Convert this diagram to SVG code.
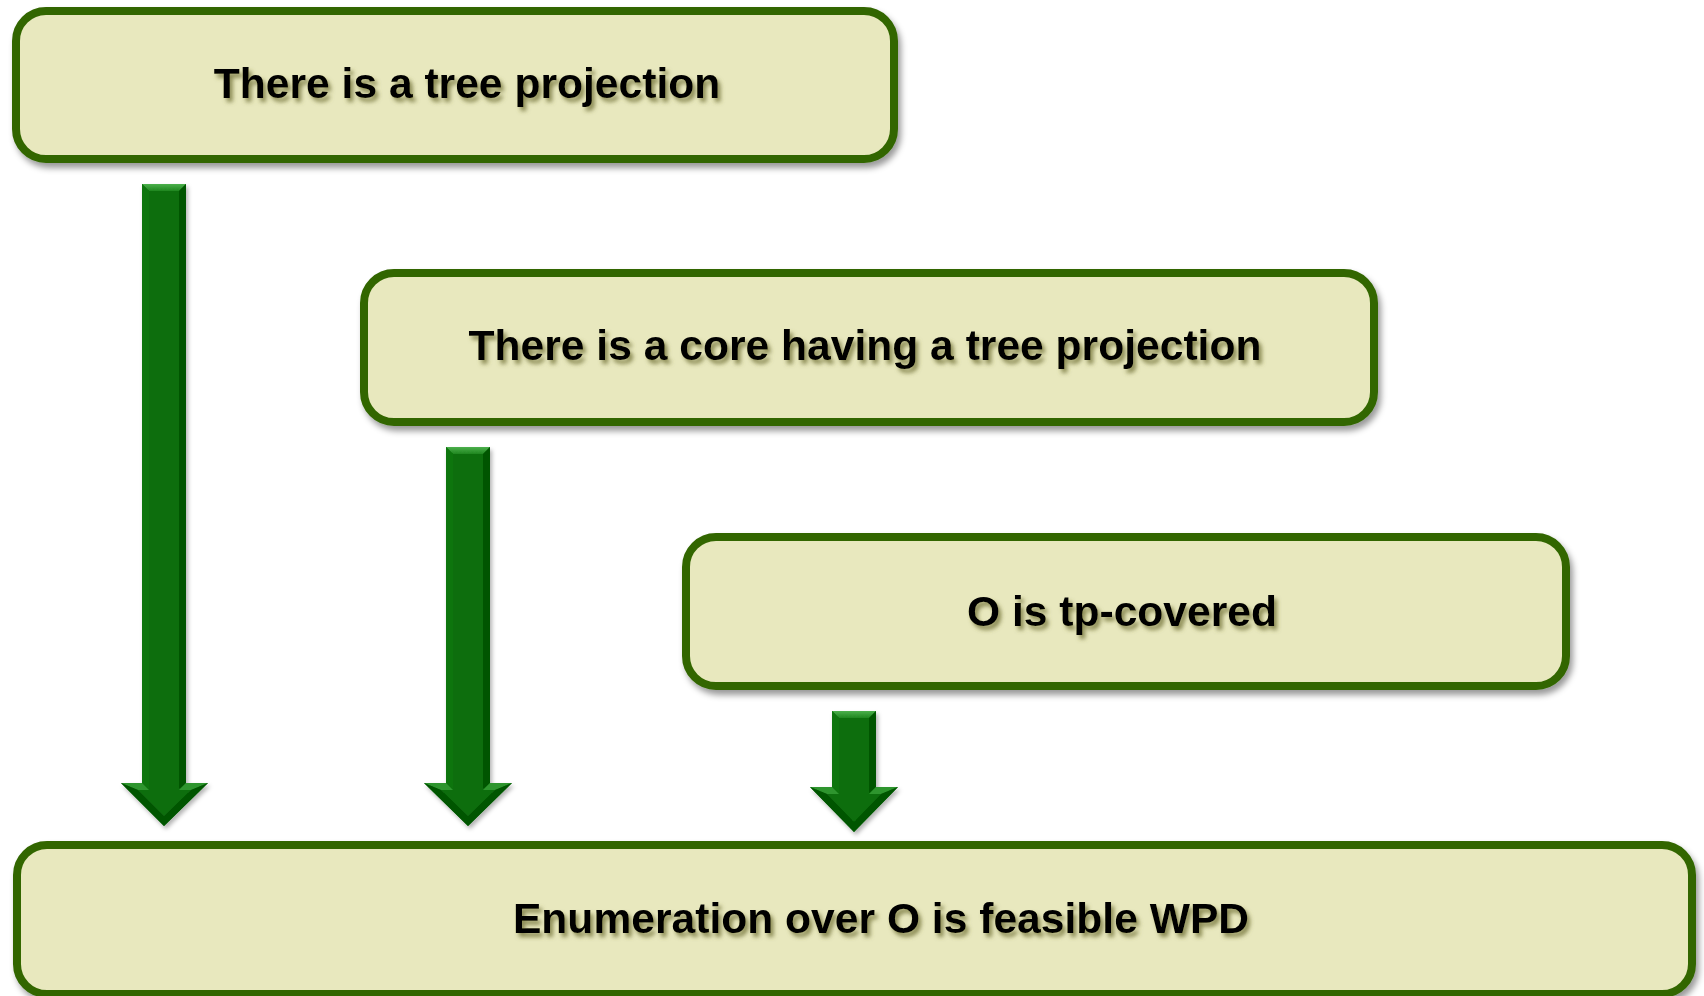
<svg xmlns="http://www.w3.org/2000/svg" width="1704" height="996" viewBox="0 0 1704 996">
  <defs>
    <style>
      .box { fill: #e8e8be; stroke: #336600; stroke-width: 8; filter: url(#boxShadow); }
      .label { font-family: "Liberation Sans", Arial, sans-serif; font-weight: bold; font-size: 42.6px; fill: #000; text-anchor: middle; filter: url(#textShadow); }
      .body { fill: #0a6e0a; }
      .bevelTop { fill: url(#topGrad); }
      .shoulder { fill: #2f952f; }
      .edgeDark { fill: #055505; }
      .edgeSide { fill: #0d740d; }
    </style>
    <filter id="boxShadow" x="-5%" y="-10%" width="110%" height="130%">
      <feGaussianBlur in="SourceAlpha" stdDeviation="3"/>
      <feOffset dx="3" dy="5" result="b"/>
      <feFlood flood-color="#000" flood-opacity="0.4"/>
      <feComposite in2="b" operator="in" result="s"/>
      <feMerge><feMergeNode in="s"/><feMergeNode in="SourceGraphic"/></feMerge>
    </filter>
    <filter id="textShadow" x="-5%" y="-30%" width="110%" height="170%">
      <feGaussianBlur in="SourceAlpha" stdDeviation="2.2"/>
      <feOffset dx="3" dy="4" result="b"/>
      <feFlood flood-color="#6b6b30" flood-opacity="0.75"/>
      <feComposite in2="b" operator="in" result="s"/>
      <feMerge><feMergeNode in="s"/><feMergeNode in="SourceGraphic"/></feMerge>
    </filter>
    <filter id="arrowShadow" x="-20%" y="-5%" width="150%" height="115%">
      <feGaussianBlur in="SourceAlpha" stdDeviation="2"/>
      <feOffset dx="2" dy="3" result="b"/>
      <feFlood flood-color="#000" flood-opacity="0.3"/>
      <feComposite in2="b" operator="in" result="s"/>
      <feMerge><feMergeNode in="s"/><feMergeNode in="SourceGraphic"/></feMerge>
    </filter>
    <linearGradient id="topGrad" x1="0" y1="0" x2="0" y2="1">
      <stop offset="0" stop-color="#4cb04c"/>
      <stop offset="1" stop-color="#1f861f"/>
    </linearGradient>
  </defs>

  <!-- connectors: bevelled block arrows -->
  <g id="connectors">
    <!-- arrow from tree projection to enumeration -->
    <g id="arrow1" filter="url(#arrowShadow)">
      <path class="body" d="M142,184 H186 V783 H208 L164,826 L121,783 H142 Z"/>
      <path class="bevelTop" d="M142,184 H186 L179,191 H149 Z"/>
      <path class="edgeSide" d="M142,184 L149,191 V789 L142,783 Z"/>
      <path class="edgeDark" d="M186,184 L179,191 V789 L186,783 Z"/>
      <path class="shoulder" d="M121,783 H142 L149,790 H138 Z"/>
      <path class="shoulder" d="M208,783 H186 L179,790 H191 Z"/>
      <path class="edgeDark" d="M121,783 L164,826 L164,816 L138,790 Z"/>
      <path class="edgeDark" d="M208,783 L164,826 L164,816 L191,790 Z"/>
    </g>
    <!-- arrow from core to enumeration -->
    <g id="arrow2" filter="url(#arrowShadow)">
      <path class="body" d="M446,447 H490 V783 H512 L468,826 L424,783 H446 Z"/>
      <path class="bevelTop" d="M446,447 H490 L483,454 H453 Z"/>
      <path class="edgeSide" d="M446,447 L453,454 V789 L446,783 Z"/>
      <path class="edgeDark" d="M490,447 L483,454 V789 L490,783 Z"/>
      <path class="shoulder" d="M424,783 H446 L453,790 H441 Z"/>
      <path class="shoulder" d="M512,783 H490 L483,790 H495 Z"/>
      <path class="edgeDark" d="M424,783 L468,826 L468,816 L441,790 Z"/>
      <path class="edgeDark" d="M512,783 L468,826 L468,816 L495,790 Z"/>
    </g>
    <!-- arrow from tp-covered to enumeration -->
    <g id="arrow3" filter="url(#arrowShadow)">
      <path class="body" d="M832,711 H876 V787 H898 L854,832 L810,787 H832 Z"/>
      <path class="bevelTop" d="M832,711 H876 L869,718 H839 Z"/>
      <path class="edgeSide" d="M832,711 L839,718 V793 L832,787 Z"/>
      <path class="edgeDark" d="M876,711 L869,718 V793 L876,787 Z"/>
      <path class="shoulder" d="M810,787 H832 L839,794 H827 Z"/>
      <path class="shoulder" d="M898,787 H876 L869,794 H881 Z"/>
      <path class="edgeDark" d="M810,787 L854,832 L854,822 L827,794 Z"/>
      <path class="edgeDark" d="M898,787 L854,832 L854,822 L881,794 Z"/>
    </g>
  </g>

  <g id="node-tree-projection">
    <rect class="box" x="16" y="11" width="878" height="148" rx="30"/>
    <text class="label" x="467" y="98">There is a tree projection</text>
  </g>

  <g id="node-core">
    <rect class="box" x="364" y="273" width="1010" height="149" rx="30"/>
    <text class="label" x="865" y="360">There is a core having a tree projection</text>
  </g>

  <g id="node-tp-covered">
    <rect class="box" x="686" y="537" width="880" height="149" rx="30"/>
    <text class="label" x="1122" y="626">O is tp-covered</text>
  </g>

  <g id="node-enumeration">
    <rect class="box" x="17" y="845" width="1675" height="149" rx="30"/>
    <text class="label" x="881" y="933">Enumeration over O is feasible WPD</text>
  </g>
</svg>
